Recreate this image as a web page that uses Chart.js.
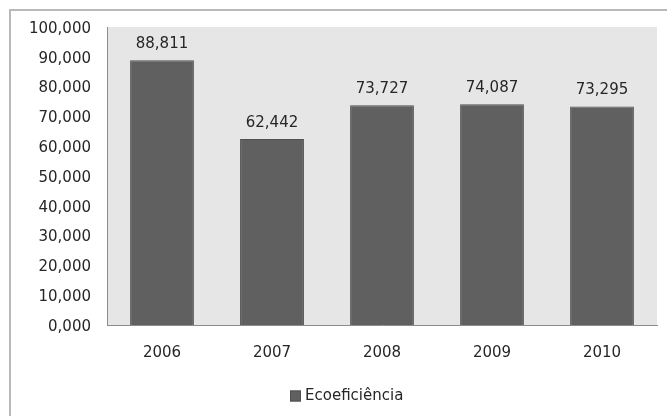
<!DOCTYPE html>
<html>
<head>
<meta charset="utf-8">
<script src="https://cdn.jsdelivr.net/npm/chart.js@4/dist/chart.umd.min.js"></script>
<style>
  html, body { margin: 0; padding: 0; background: #fff; }
  #wrap { position: relative; width: 667px; height: 416px; overflow: hidden; }
  #moldura { position: absolute; left: 9px; top: 9px; width: 700px; height: 450px; border: 2px solid #b9b9b9; }
  #grafico { position: absolute; left: 0; top: 0; }
</style>
</head>
<body>
<div id="wrap">
  <div id="moldura"></div>
  <canvas id="grafico" width="667" height="416"></canvas>
</div>
<script>
// Dados
const anos = ['2006', '2007', '2008', '2009', '2010'];
const ecoeficiencia = [88.811, 62.442, 73.727, 74.087, 73.295];
const eixoMin = 0;
const eixoMax = 100;
const eixoPasso = 10;

const FONTE = '"DejaVu Sans", Verdana, sans-serif';
const COR_TEXTO = '#262626';
const COR_BARRA = '#606060';
const fmt = v => Number(v).toFixed(3).replace('.', ',');

// Fundo cinza da área de plotagem
const fundoPlot = {
  id: 'fundoPlot',
  beforeDraw(chart) {
    const { ctx, chartArea: a } = chart;
    ctx.save();
    ctx.fillStyle = '#e6e6e6';
    ctx.fillRect(a.left, a.top, a.right - a.left, a.bottom - a.top);
    ctx.restore();
  }
};

// Rótulos de valor acima das barras
const rotulos = {
  id: 'rotulos',
  afterDatasetsDraw(chart) {
    const { ctx } = chart;
    const meta = chart.getDatasetMeta(0);
    ctx.save();
    ctx.font = '15px ' + FONTE;
    ctx.fillStyle = COR_TEXTO;
    ctx.textAlign = 'center';
    ctx.textBaseline = 'middle';
    meta.data.forEach((bar, i) => {
      ctx.fillText(fmt(ecoeficiencia[i]), bar.x, bar.y - 16);
    });
    ctx.restore();
  }
};

// Legenda estilo Excel (quadrado + texto bem junto)
const legendaExcel = {
  id: 'legendaExcel',
  afterDraw(chart) {
    const { ctx } = chart;
    const ds = chart.data.datasets[0];
    ctx.save();
    ctx.font = '15px ' + FONTE;
    const tw = ctx.measureText(ds.label).width;
    const box = 11, gap = 4;
    const total = box + gap + tw;
    const x0 = Math.round(chart.width / 2 - total / 2 + 13);
    const yc = 396;
    ctx.fillStyle = ds.backgroundColor;
    ctx.strokeStyle = ds.borderColor;
    ctx.lineWidth = 1;
    ctx.fillRect(x0, yc - 5.5, box, box);
    ctx.strokeRect(x0 + 0.5, yc - 5, box - 1, box - 1);
    ctx.fillStyle = COR_TEXTO;
    ctx.textBaseline = 'middle';
    ctx.fillText(ds.label, x0 + box + gap, yc);
    ctx.restore();
  }
};

new Chart(document.getElementById('grafico'), {
  type: 'bar',
  data: {
    labels: anos,
    datasets: [{
      label: 'Ecoeficiência',
      data: ecoeficiencia,
      backgroundColor: COR_BARRA,
      borderColor: '#505050',
      borderWidth: 1,
      categoryPercentage: 1,
      barPercentage: 0.58,
    }],
  },
  options: {
    responsive: false,
    animation: false,
    layout: { padding: { top: 27, right: 10, bottom: 41, left: 0 } },
    plugins: {
      legend: { display: false },
      tooltip: { enabled: false },
    },
    scales: {
      x: {
        afterFit: s => { s.height = 50; },
        grid: { display: false, drawTicks: false },
        border: { display: true, color: '#8c8c8c', width: 1 },
        ticks: { color: COR_TEXTO, font: { family: FONTE, size: 15 }, padding: 19 },
      },
      y: {
        min: eixoMin, max: eixoMax,
        afterFit: s => { s.width = 107; },
        grid: { display: false, drawTicks: false },
        border: { display: true, color: '#8c8c8c', width: 1 },
        ticks: {
          stepSize: eixoPasso,
          color: COR_TEXTO,
          font: { family: FONTE, size: 15 },
          padding: 16,
          labelOffset: 2,
          callback: v => fmt(v),
        },
      },
    },
  },
  plugins: [fundoPlot, rotulos, legendaExcel],
});
</script>
</body>
</html>
